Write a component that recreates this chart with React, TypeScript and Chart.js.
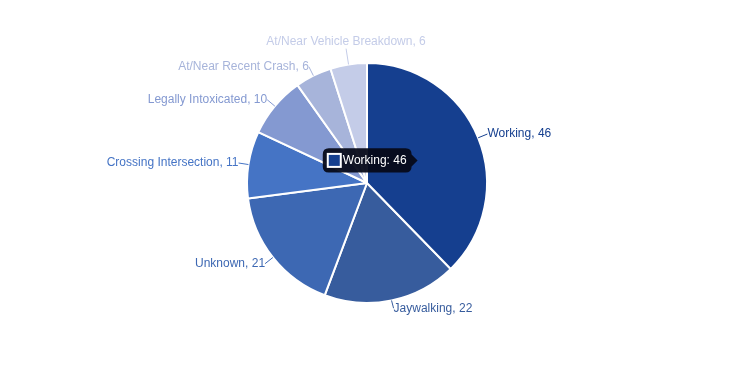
import React, { useEffect, useRef } from "react";
import { Chart, registerables } from "chart.js";

Chart.register(...registerables);

const categories = [
  "Working",
  "Jaywalking",
  "Unknown",
  "Crossing Intersection",
  "Legally Intoxicated",
  "At/Near Recent Crash",
  "At/Near Vehicle Breakdown",
];
const values = [46, 22, 21, 11, 10, 6, 6];
const colors = [
  "#153f8f",
  "#375c9d",
  "#3d68b3",
  "#4574c5",
  "#8499d1",
  "#a7b4da",
  "#c4cce8",
];

const FONT = "12px 'Liberation Sans', Arial, Helvetica, sans-serif";

const outsideLabels = {
  id: "outsideLabels",
  afterDatasetsDraw(chart: any) {
    const ctx = chart.ctx;
    const meta = chart.getDatasetMeta(0);
    const labels = chart.data.labels as string[];
    const data = chart.data.datasets[0].data as number[];
    const cols = chart.data.datasets[0].backgroundColor as string[];
    ctx.save();
    ctx.font = FONT;
    meta.data.forEach((arc: any, i: number) => {
      const { x, y, startAngle, endAngle, outerRadius } = arc.getProps(
        ["x", "y", "startAngle", "endAngle", "outerRadius"],
        true
      );
      const mid = (startAngle + endAngle) / 2;
      const dx = Math.cos(mid);
      const dy = Math.sin(mid);
      const text = `${labels[i]}, ${data[i]}`;
      const h = 12;
      const p0x = x + dx * outerRadius;
      const p0y = y + dy * outerRadius;
      ctx.strokeStyle = cols[i];
      ctx.fillStyle = cols[i];
      ctx.lineWidth = 1;
      if (Math.abs(dx) < 0.2) {
        const len = 16;
        const p1x = x + dx * (outerRadius + len);
        const p1y = y + dy * (outerRadius + len);
        ctx.beginPath();
        ctx.moveTo(p0x, p0y);
        ctx.lineTo(p1x, p1y);
        ctx.stroke();
        ctx.textAlign = "center";
        ctx.textBaseline = "middle";
        const cy = p1y + Math.sign(dy) * (h / 2 + 1);
        ctx.fillText(text, p1x, cy);
      } else {
        const len = 10;
        const p1x = x + dx * (outerRadius + len);
        const p1y = y + dy * (outerRadius + len);
        const cy = p1y - (dy > 0.9 ? 2 : 0);
        ctx.beginPath();
        ctx.moveTo(p0x, p0y);
        ctx.lineTo(p1x, cy);
        ctx.stroke();
        ctx.textBaseline = "middle";
        if (dx > 0) {
          ctx.textAlign = "left";
          ctx.fillText(text, p1x, cy);
        } else {
          ctx.textAlign = "right";
          ctx.fillText(text, p1x, cy);
        }
      }
    });
    ctx.restore();
  },
};

export default function App() {
  const ref = useRef<HTMLCanvasElement>(null);
  useEffect(() => {
    document.body.style.margin = "0";
    const chart = new Chart(ref.current as HTMLCanvasElement, {
      type: "pie",
      data: {
        labels: categories,
        datasets: [
          {
            data: values,
            backgroundColor: colors,
            hoverBackgroundColor: colors,
            borderColor: "#ffffff",
            hoverBorderColor: "#ffffff",
            borderWidth: 2,
            hoverBorderWidth: 2,
            hoverOffset: 0,
            offset: 0,
          } as any,
        ],
      },
      options: {
        animation: false,
        responsive: false,
        radius: 120,
        layout: { padding: { top: 0, bottom: 1 } },
        events: [],
        plugins: {
          legend: { display: false },
          tooltip: {
            enabled: true,
            backgroundColor: "rgba(6,10,24,0.94)",
            bodyColor: "#ffffff",
            bodyFont: { family: "'Liberation Sans', Arial, sans-serif", size: 12, weight: "normal" },
            padding: 5,
            cornerRadius: 6,
            caretSize: 6,
            caretPadding: 5,
            boxWidth: 13,
            boxHeight: 13,
            displayColors: true,
            callbacks: {
              title: () => "",
              label: (c: any) => `${c.label}: ${c.parsed}`,
            },
          },
        },
      } as any,
      plugins: [outsideLabels],
    });
    const act = [{ datasetIndex: 0, index: 0 }];
    chart.setActiveElements(act);
    chart.tooltip?.setActiveElements(act, { x: 0, y: 0 });
    chart.update();
    return () => chart.destroy();
  }, []);
  return (
    <div style={{ width: 734, height: 367 }}>
      <canvas ref={ref} width={734} height={367} style={{ display: "block" }} />
    </div>
  );
}
